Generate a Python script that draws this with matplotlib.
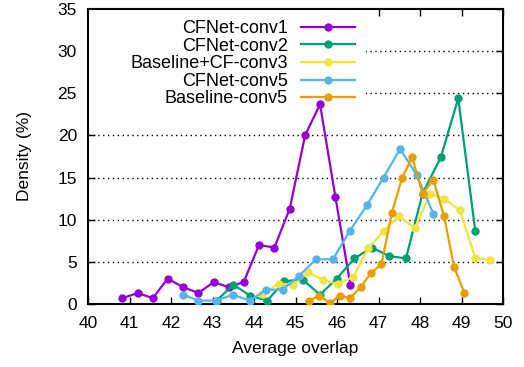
import matplotlib.pyplot as plt
from matplotlib.patches import Rectangle

plt.rcParams['font.family'] = ['Liberation Sans', 'DejaVu Sans']

# overlap bins and densities for each tracker variant
x_conv1 = [40.83, 41.2, 41.56, 41.92, 42.29, 42.66, 43.03, 43.39, 43.75, 44.12,
           44.49, 44.86, 45.23, 45.59, 45.96, 46.32]
y_conv1 = [0.7, 1.3, 0.7, 3.0, 2.0, 1.3, 2.6, 2.0, 2.6, 7.0,
           6.7, 11.3, 20.0, 23.7, 12.7, 2.3]

x_conv2 = [43.1, 43.5, 43.9, 44.32, 44.73, 45.17, 45.59, 45.99, 46.42, 46.84,
           47.25, 47.66, 48.06, 48.5, 48.92, 49.33]
y_conv2 = [0.4, 2.3, 1.0, 0.4, 2.7, 2.9, 1.1, 3.0, 5.4, 6.7,
           5.7, 5.4, 13.1, 17.4, 24.4, 8.7]

x_bcf3 = [44.2, 44.59, 44.95, 45.31, 45.67, 46.03, 46.39, 46.75, 47.13, 47.49,
          47.88, 48.24, 48.58, 48.96, 49.33, 49.69]
y_bcf3 = [1.2, 2.4, 2.3, 3.8, 2.8, 2.4, 3.2, 6.6, 8.7, 10.4,
          9.0, 13.1, 12.5, 11.1, 5.5, 5.2]

x_conv5 = [42.29, 42.66, 43.08, 43.49, 43.9, 44.3, 44.69, 45.08, 45.49, 45.9,
           46.31, 46.72, 47.12, 47.52, 47.92, 48.32]
y_conv5 = [1.1, 0.4, 0.4, 1.1, 0.4, 1.7, 1.7, 3.3, 5.3, 5.3,
           8.7, 11.7, 15.0, 18.4, 15.3, 10.7]

x_base5 = [45.33, 45.57, 45.83, 46.07, 46.31, 46.57, 46.82, 47.07, 47.32, 47.57,
           47.81, 48.06, 48.32, 48.58, 48.82, 49.07]
y_base5 = [0.4, 1.0, 0.1, 1.0, 0.7, 2.0, 3.7, 4.7, 10.8, 15.0,
           17.4, 13.1, 14.7, 10.4, 4.4, 1.3]

series = [
    ('CFNet-conv1', x_conv1, y_conv1, '#9400d3'),
    ('CFNet-conv2', x_conv2, y_conv2, '#009e73'),
    ('Baseline+CF-conv3', x_bcf3, y_bcf3, '#f0e442'),
    ('CFNet-conv5', x_conv5, y_conv5, '#56b4e9'),
    ('Baseline-conv5', x_base5, y_base5, '#e69f00'),
]

fig = plt.figure(figsize=(5.24, 3.67), dpi=100)
ax = fig.add_axes([0.168, 0.1717, 0.792, 0.8038])

ax.set_xlim(40, 50)
ax.set_ylim(0, 35)
ax.set_xticks(range(40, 51))
ax.set_yticks(range(0, 36, 5))
ax.tick_params(direction='in', length=5, width=1, top=True, right=True,
               labelsize=12.5)
ax.tick_params(axis='x', pad=9)
ax.tick_params(axis='y', pad=8)
for sp in ax.spines.values():
    sp.set_linewidth(1.5)

for yv in range(5, 35, 5):
    ax.axhline(yv, color='black', lw=1, ls=(0, (1, 2.5)), zorder=1)

# opaque key box hides the grid behind it
ax.add_patch(Rectangle((0, 0.65), 0.67, 0.35, transform=ax.transAxes,
                       facecolor='white', edgecolor='none', zorder=2))

for label, xs, ys, c in series:
    ax.plot(xs, ys, '-o', color=c, lw=1.6, ms=5, label=label, zorder=3)

ax.set_xlabel('Average overlap', fontsize=12.5, labelpad=7)
ax.set_ylabel('Density (%)', fontsize=12.5, labelpad=18)

leg = ax.legend(loc='upper right', bbox_to_anchor=(0.643, 0.962), frameon=False,
                markerfirst=False, fontsize=13, borderpad=0, borderaxespad=0,
                handlelength=3.0, handletextpad=0.7, labelspacing=0.03)
leg.set_zorder(4)

fig.savefig('out.png', dpi=100)
